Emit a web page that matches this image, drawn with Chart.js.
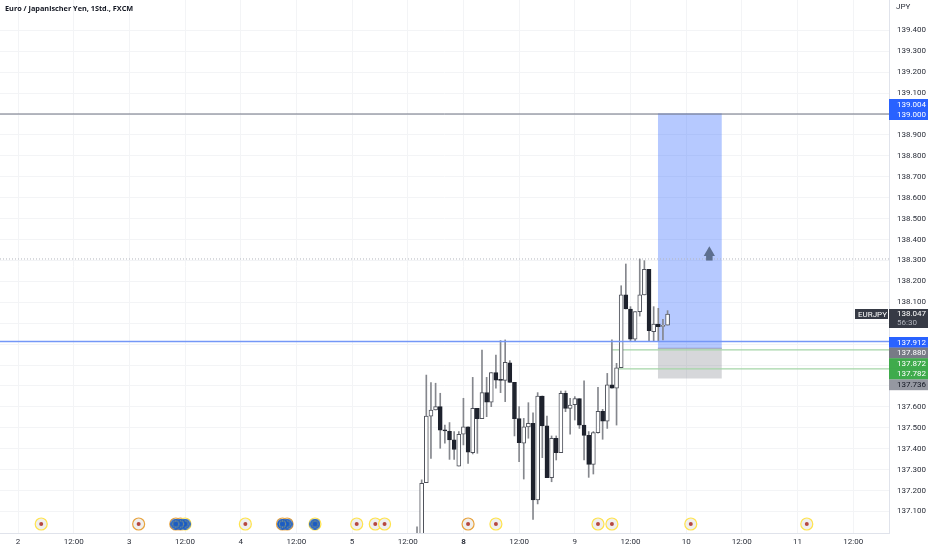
<!DOCTYPE html>
<html>
<head>
<meta charset="utf-8">
<title>EURJPY</title>
<script src="https://cdn.jsdelivr.net/npm/chart.js@4/dist/chart.umd.min.js"></script>
<style>
  html, body { margin: 0; padding: 0; background: #fff; overflow: hidden; }
  #chart { display: block; }
</style>
</head>
<body>
<canvas id="chart" width="932" height="550"></canvas>
<script>
const firstBar = 86;
const opens  = [136.88,136.92,137.238,137.556,137.585,137.601,137.489,137.483,137.442,137.317,137.469,137.505,137.381,137.593,137.544,137.668,137.623,137.764,137.728,137.727,137.811,137.717,137.544,137.426,137.504,137.521,137.155,137.652,137.509,137.262,137.450,137.381,137.665,137.593,137.611,137.639,137.513,137.464,137.325,137.477,137.579,137.532,137.705,137.689,137.787,138.135,138.068,137.924,138.055,138.135,138.257,137.959,137.996,137.985,137.991];
const highs  = [137.027,137.251,137.752,137.716,137.713,137.665,137.513,137.525,137.482,137.482,137.641,137.505,137.741,137.593,137.872,137.741,137.764,137.848,137.917,137.920,137.821,137.717,137.601,137.545,137.620,137.572,137.668,137.652,137.556,137.461,137.461,137.676,137.676,137.641,137.649,137.639,137.725,137.482,137.482,137.693,137.588,137.760,137.920,137.808,138.179,138.283,138.079,138.055,138.307,138.299,138.257,138.079,138.071,138.018,138.060];
const lows   = [136.80,136.90,137.238,137.354,137.585,137.402,137.426,137.349,137.349,137.317,137.418,137.330,137.375,137.378,137.544,137.553,137.601,137.689,137.668,137.625,137.717,137.461,137.338,137.255,137.450,137.062,137.136,137.357,137.262,137.242,137.346,137.381,137.577,137.470,137.537,137.497,137.346,137.263,137.279,137.474,137.445,137.497,137.689,137.513,137.787,138.068,137.915,137.915,138.034,138.135,137.916,137.916,137.912,137.920,137.991];
const closes = [136.92,137.235,137.556,137.585,137.601,137.489,137.485,137.442,137.397,137.469,137.505,137.384,137.593,137.544,137.668,137.623,137.764,137.728,137.727,137.813,137.717,137.544,137.429,137.504,137.521,137.155,137.652,137.509,137.262,137.450,137.381,137.665,137.593,137.609,137.639,137.513,137.464,137.325,137.477,137.579,137.532,137.705,137.689,137.787,138.135,138.068,137.924,138.055,138.135,138.257,137.964,137.996,137.983,137.988,138.044];

const priceGrid = [137.1,137.2,137.3,137.4,137.5,137.6,137.7,137.8,137.9,138.0,138.1,138.2,138.3,138.4,138.5,138.6,138.7,138.8,138.9,139.0,139.1,139.2,139.3,139.4];
const priceHidden = [137.7,137.8,137.9,138.0,139.0];
const timeTicks = [0,12,24,36,48,60,72,84,96,108,120,132,144,156,168,180];
const timeLabels = ['2','12:00','3','12:00','4','12:00','5','12:00','8','12:00','9','12:00','10','12:00','11','12:00'];

const yellowEvents = [5,36,49,64,73,77,79,103,125,128,145,170];
const orangeEvents = [26,34,35,57,58,97];
const euroEvents = [36,35,34,58,57,64];
const eventLevel = 137.04;

const targetTop = 139.004, entryLevel = 137.88, stopLevel = 137.736;
const zoneStart = 137.9, zoneEnd = 151.7;
const lineStop = 139.0, lineBlue = 137.912, lineDotted = 138.307;
const lineGreenA = 137.872, lineGreenB = 137.782;
const greenAStart = 128, greenBStart = 129;
const xMin = -3.88, xMax = 187.72, yMin = 136.997, yMax = 139.545;

const tagTexts = ['137.912','137.880','137.872','137.782','137.736'];
const tagFills = ['#2962ff','#787b86','#3fab4c','#3fab4c','#9598a1'];
const tagInk   = ['#ffffff','#ffffff','#ffffff','#ffffff','#131722'];

const bars = opens.map((o, i) => firstBar + i);
const isUp = opens.map((o, i) => closes[i] >= o);
const upFill = '#ffffff', downFill = '#1e222d', candleEdge = '#50535c', wickColor = '#85878d';
const axisInk = '#2a2e39';

function flat(y, from, to) { return [{x: from, y: y}, {x: to, y: y}]; }
function points(list) { return list.map(x => ({x: x, y: eventLevel})); }

// little EU flag badge used as point style
function euroBadge() {
  const cv = document.createElement('canvas');
  cv.width = 11; cv.height = 11;
  const g = cv.getContext('2d');
  g.fillStyle = '#1a5cc4';
  g.beginPath(); g.arc(5.5, 5.5, 5.4, 0, Math.PI * 2); g.fill();
  g.fillStyle = '#b9b56a';
  for (let a = 0; a < 12; a++) {
    const t = a * Math.PI / 6;
    g.fillRect(5.5 + Math.cos(t) * 3.2 - 0.5, 5.5 + Math.sin(t) * 3.2 - 0.5, 1, 1);
  }
  return cv;
}

function noPadding(s) {
  s.paddingLeft = 0; s.paddingRight = 0; s.paddingTop = 0; s.paddingBottom = 0;
}

const overlayText = {
  id: 'overlayText',
  afterDraw(chart) {
    const c = chart.ctx;
    c.save();
    c.textBaseline = 'middle';
    c.textAlign = 'left';
    c.font = '700 7.3px "Open Sans"';
    c.fillStyle = '#131722';
    c.fillText('Euro / Japanischer Yen, 1Std., FXCM', 5, 9);
    c.font = '8px Roboto';
    c.fillStyle = axisInk;
    c.fillText('JPY', 896, 7);

    // price tags on the right axis
    c.fillStyle = '#2962ff';
    c.fillRect(889, 99, 39, 21);
    c.fillStyle = '#ffffff';
    c.fillText('139.004', 897, 104.5);
    c.fillText('139.000', 897, 114.5);

    tagTexts.forEach((t, i) => {
      const top = 337 + i * 10.6;
      c.fillStyle = tagFills[i];
      c.fillRect(889, top, 39, 10.8);
      c.fillStyle = tagInk[i];
      c.fillText(t, 897, top + 5.5);
    });

    c.fillStyle = '#363a45';
    c.fillRect(855, 309, 33, 10);
    c.fillRect(889, 309, 39, 19);
    c.fillStyle = '#ffffff';
    c.fillText('EURJPY', 858, 314.5);
    c.fillText('138.047', 897, 314);
    c.fillStyle = '#b2b5be';
    c.fillText('56:30', 897, 323);
    c.restore();
  }
};

new Chart(document.getElementById('chart'), {
  type: 'bar',
  plugins: [overlayText],
  data: {
    datasets: [
      {type: 'line', order: 9, data: flat(targetTop, zoneStart, zoneEnd), fill: {value: entryLevel}, backgroundColor: 'rgba(41,98,255,0.34)', borderWidth: 0, pointRadius: 0},
      {type: 'line', order: 9, data: flat(entryLevel, zoneStart, zoneEnd), fill: {value: stopLevel}, backgroundColor: 'rgba(120,123,134,0.3)', borderColor: '#a9abb3', borderWidth: 1, pointRadius: 0},
      {type: 'line', order: 8, data: flat(lineDotted, xMin, xMax), borderColor: '#b2b5be', borderWidth: 1, borderDash: [1, 2], pointRadius: 0},
      {type: 'line', order: 8, data: flat(lineStop, xMin, xMax), borderColor: '#6d7080', borderWidth: 1, pointRadius: 0},
      {type: 'line', order: 8, data: flat(lineGreenA, greenAStart, xMax), borderColor: '#a5d6a7', borderWidth: 1.2, pointRadius: 0},
      {type: 'line', order: 8, data: flat(lineGreenB, greenBStart, xMax), borderColor: '#a5d6a7', borderWidth: 1.2, pointRadius: 0},
      {order: 5, data: bars.map((x, i) => ({x: x, y: [lows[i], highs[i]]})), barThickness: 1, backgroundColor: wickColor, borderWidth: 0},
      {order: 4, data: bars.map((x, i) => ({x: x, y: [opens[i], closes[i]]})), barThickness: 4, minBarLength: 1,
        backgroundColor: isUp.map(u => u ? upFill : downFill),
        borderColor: isUp.map(u => u ? candleEdge : downFill), borderWidth: 1, borderSkipped: false},
      {type: 'line', order: 3, data: flat(lineBlue, xMin, xMax), borderColor: '#7497f7', borderWidth: 1.5, pointRadius: 0},
      {type: 'scatter', order: 2, data: points(orangeEvents), pointRadius: 6, backgroundColor: '#efefef', borderColor: '#e8a33d', borderWidth: 1.2},
      {type: 'scatter', order: 1.9, data: points(yellowEvents), pointRadius: 6, backgroundColor: '#efefef', borderColor: '#ffe34d', borderWidth: 1.2},
      {type: 'scatter', order: 1.8, data: points(yellowEvents.concat(orangeEvents)), pointRadius: 2, backgroundColor: '#b5473f', borderWidth: 0},
      {type: 'scatter', order: 1.7, data: points(euroEvents), pointStyle: euroBadge()},
      {type: 'scatter', order: 1, data: [{x: 149, y: 138.337}], pointStyle: 'triangle', pointRadius: 6.5, backgroundColor: '#5d6f8f', borderWidth: 0},
      {type: 'scatter', order: 1, data: [{x: 149, y: 138.315}], pointStyle: 'rect', pointRadius: 4.6, backgroundColor: '#5d6f8f', borderWidth: 0}
    ]
  },
  options: {
    responsive: false,
    animation: false,
    devicePixelRatio: 1,
    layout: {padding: 0, autoPadding: false},
    plugins: {legend: {display: false}, tooltip: {enabled: false}, title: {display: false}},
    datasets: {bar: {grouped: false}},
    scales: {
      x: {
        type: 'linear', min: xMin, max: xMax, offset: false,
        grid: {color: '#f3f4f6', offset: false, drawTicks: false},
        border: {color: '#e0e3eb'},
        afterFit(s) { s.height = 17; noPadding(s); },
        afterBuildTicks(s) { s.ticks = timeTicks.map(v => ({value: v})); },
        ticks: {
          autoSkip: false, maxRotation: 0, padding: 4, color: axisInk,
          font: ctx => ({family: 'Roboto', size: 8, weight: timeTicks[ctx.index] === 96 ? 'bold' : 'normal'}),
          callback: (v, i) => timeLabels[i]
        }
      },
      y: {
        position: 'right', min: yMin, max: yMax,
        grid: {color: '#f3f4f6', drawTicks: false},
        border: {color: '#e0e3eb'},
        afterFit(s) { s.width = 43; noPadding(s); },
        afterBuildTicks(s) { s.ticks = priceGrid.map(v => ({value: v})); },
        ticks: {
          padding: 8, color: axisInk, font: {family: 'Roboto', size: 8},
          callback: v => priceHidden.includes(v) ? '' : v.toFixed(3)
        }
      }
    }
  }
});
</script>
</body>
</html>
